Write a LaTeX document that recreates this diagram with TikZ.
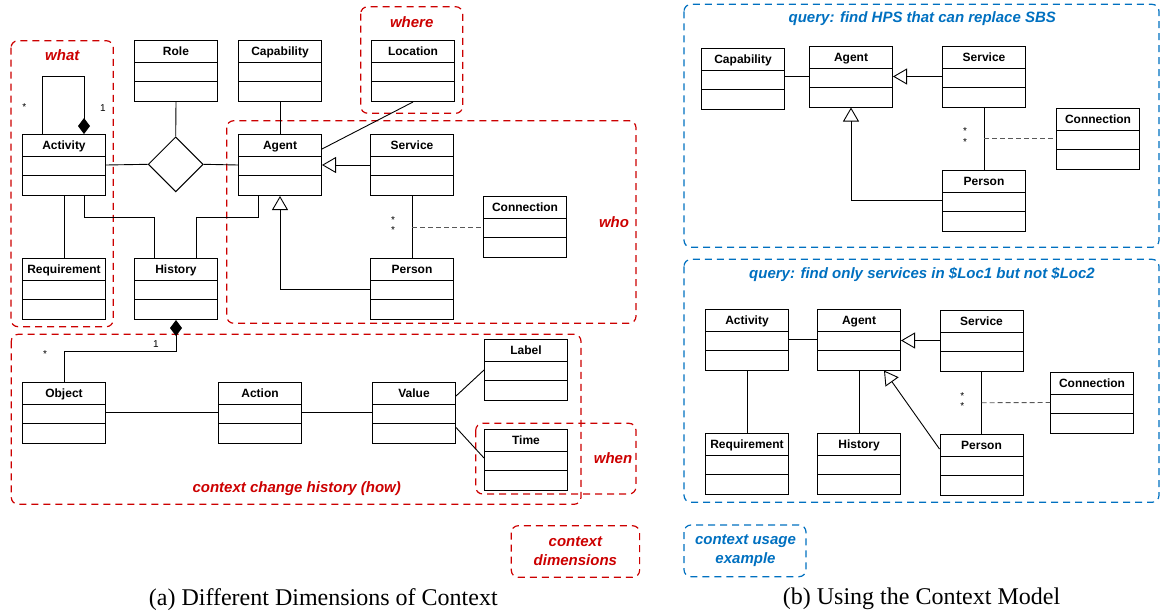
\documentclass[tikz,border=0pt]{standalone}
\usepackage{fontspec}
\setmainfont{Liberation Serif}
\setsansfont{Liberation Sans}
\usetikzlibrary{arrows.meta,shapes.geometric,calc}
\definecolor{ctxred}{RGB}{204,0,0}
\definecolor{ctxblue}{RGB}{0,112,192}

\begin{document}
\begin{tikzpicture}[x=1pt, y=-1pt,
        cls/.style={draw, line width=1pt, anchor=north west, inner sep=0pt,
            minimum width=83pt, text height=15pt, text depth=46pt,
            font=\sffamily\bfseries\fontsize{12}{14}\selectfont,
            path picture={
                \draw[line width=1pt] ([yshift=-22pt]path picture bounding box.north west) -- ([yshift=-22pt]path picture bounding box.north east);
                \draw[line width=1pt] ([yshift=-41pt]path picture bounding box.north west) -- ([yshift=-41pt]path picture bounding box.north east);
            }},
        link/.style={line width=0.9pt},
        gen/.style={link, -{Triangle[open, length=14pt, width=16pt]}},
        comp/.style={link, -{Diamond[length=16pt, width=12pt]}},
        qual/.style={draw=gray!70!black, line width=0.9pt, dash pattern=on 5pt off 3pt},
        mult/.style={font=\sffamily\fontsize{10}{12}\selectfont, inner sep=0pt},
        frame/.style={line width=1.2pt, dash pattern=on 7pt off 5pt, rounded corners=7pt},
        tag/.style={font=\sffamily\bfseries\itshape\fontsize{15}{19}\selectfont, inner sep=0pt, align=center},
        caption/.style={font=\fontsize{24}{27}\selectfont, inner sep=0pt}
    ]
    \useasboundingbox (0,0) rectangle (1160,611);

    % (a) dimensions of context
    \draw[frame, ctxred] (11,40.7) rectangle (113.3,326.7);
    \draw[frame, ctxred] (360.7,6.7) rectangle (462.7,113.3);
    \draw[frame, ctxred] (226.7,120.7) rectangle (636,323.3);
    \draw[frame, ctxred] (11.25,334.3) rectangle (581,504.3);
    \draw[frame, ctxred] (475.7,423.3) rectangle (636,494);
    \draw[frame, ctxred] (511.3,525.7) rectangle (639.6,577.3);

    \node[tag, ctxred] (what) at (62.3,55) {what};
    \node[tag, ctxred] (where) at (411.7,22) {where};
    \node[tag, ctxred] (who) at (614,222) {who};
    \node[tag, ctxred] (how) at (296.7,489) {context change history (how)};
    \node[tag, ctxred] (when) at (613,457.7) {when};
    \node[tag, ctxred] (dims) at (575.4,551.5) {context\\dimensions};

    \node[cls] (activity) at (22,134) {Activity};
    \node[cls] (requirement) at (22,258) {Requirement};
    \node[cls] (role) at (134,40) {Role};
    \node[cls] (capability) at (238,40) {Capability};
    \node[cls] (history) at (134,258) {History};
    \node[cls] (agent) at (238,134) {Agent};
    \node[cls] (location) at (371,40) {Location};
    \node[cls] (service) at (370,134) {Service};
    \node[cls] (person) at (370,258) {Person};
    \node[cls] (connection) at (483,196) {Connection};
    \node[cls] (object) at (22,381.5) {Object};
    \node[cls] (action) at (218,381.5) {Action};
    \node[cls] (value) at (372,381.5) {Value};
    \node[cls] (label) at (484,339) {Label};
    \node[cls] (time) at (484,428.5) {Time};

    \node[draw, diamond, line width=1pt, inner sep=0pt, minimum width=55pt, minimum height=55pt] (assoc) at (175.7,164.3) {};

    \draw[link] (activity.east) -- (assoc.west);
    \draw[link] (assoc.east) -- (agent.west);
    \draw[link] (role.south) -- (assoc.north);
    \draw[link] (capability.south) -- (agent.north);
    \draw[comp] ([xshift=20.5pt]activity.north west) -- ++(0,-57.3) -| ([xshift=62pt]activity.north west);
    \node[mult] (actmany) at (24.3,107) {*};
    \node[mult] (actone) at (103,108.3) {1};
    \draw[link] (activity.south) -- (requirement.north);
    \draw[link] ([xshift=62pt]activity.south west) -- ++(0,21) -| ([xshift=20pt]history.north west);
    \draw[link] ([xshift=20.5pt]agent.south west) -- ++(0,21) -| ([xshift=62pt]history.north west);
    \draw[gen] (person.west) -| (agent.south);
    \draw[gen] (service.west) -- (agent.east);
    \draw[link] (location.south) -- ([yshift=-15pt]agent.north east);
    \draw[link] (service.south) -- (person.north);
    \coordinate (svcper) at ($(service.south)!0.5!(person.north)$);
    \draw[qual] (svcper) -- (connection.west);
    \node[mult] (svcmany) at (393,220) {*};
    \node[mult] (permany) at (393,230) {*};

    \draw[comp] (object.north) |- ($(history.south)+(0,31)$) -- (history.south);
    \node[mult] (histone) at (156,344) {1};
    \node[mult] (objmany) at (45,354) {*};
    \draw[link] (object.east) -- (action.west);
    \draw[link] (action.east) -- (value.west);
    \draw[link] ([yshift=-14.5pt]value.north east) -- ([yshift=-31pt]label.north west);
    \draw[link] ([yshift=-46pt]value.north east) -- ([yshift=-29.5pt]time.north west);

    % (b) usage of the model
    \draw[frame, ctxblue] (684,4.3) rectangle (1159,247.3);
    \draw[frame, ctxblue] (684,259.3) rectangle (1159,502.3);
    \draw[frame, ctxblue] (684,525) rectangle (806,576.7);

    \node[tag, ctxblue] (queryone) at (922.3,19) {query: find HPS that can replace SBS};
    \node[tag, ctxblue] (querytwo) at (922,274) {query: find only services in \$Loc1 but not \$Loc2};
    \node[tag, ctxblue] (usage) at (745.5,550.5) {context usage\\example};

    \node[cls] (capabilityq) at (701,47.5) {Capability};
    \node[cls] (agentq) at (809,45.5) {Agent};
    \node[cls] (serviceq) at (942,45.5) {Service};
    \node[cls] (connectionq) at (1056,107.5) {Connection};
    \node[cls] (personq) at (942,169.5) {Person};

    \draw[link] (agentq.west -| capabilityq.east) -- (agentq.west);
    \draw[gen] (serviceq.west) -- (agentq.east);
    \draw[gen] (personq.west) -| (agentq.south);
    \draw[link] (serviceq.south) -- (personq.north);
    \coordinate (svcperq) at ($(serviceq.south)!0.5!(personq.north)$);
    \draw[qual] (svcperq) -- (connectionq.west);
    \node[mult] (svcmanyq) at (965,131.3) {*};
    \node[mult] (permanyq) at (965,142) {*};

    \node[cls] (activityl) at (705,308.5) {Activity};
    \node[cls] (agentl) at (817,308.5) {Agent};
    \node[cls] (servicel) at (939.5,309.5) {Service};
    \node[cls] (connectionl) at (1050,371.5) {Connection};
    \node[cls] (requirementl) at (705,432.5) {Requirement};
    \node[cls] (historyl) at (817,432.5) {History};
    \node[cls] (personl) at (939.5,434) {Person};

    \draw[link] (activityl.east) -- (agentl.west);
    \draw[gen] (servicel.west) -- (servicel.west -| agentl.east);
    \draw[gen] ([yshift=-15pt]personl.north west) -- ([xshift=67pt]agentl.south west);
    \draw[link] (activityl.south) -- (requirementl.north);
    \draw[link] (agentl.south) -- (historyl.north);
    \draw[link] (servicel.south) -- (personl.north);
    \coordinate (svcperl) at ($(servicel.south)!0.5!(personl.north)$);
    \draw[qual] (svcperl) -- (connectionl.west);
    \node[mult] (svcmanyl) at (962.3,396) {*};
    \node[mult] (permanyl) at (962.3,406) {*};

    % captions
    \node[caption] (capa) at (323.3,600) {(a)~Different Dimensions of Context};
    \node[caption] (capb) at (921.5,599) {(b)~Using the Context Model};
\end{tikzpicture}
\end{document}
